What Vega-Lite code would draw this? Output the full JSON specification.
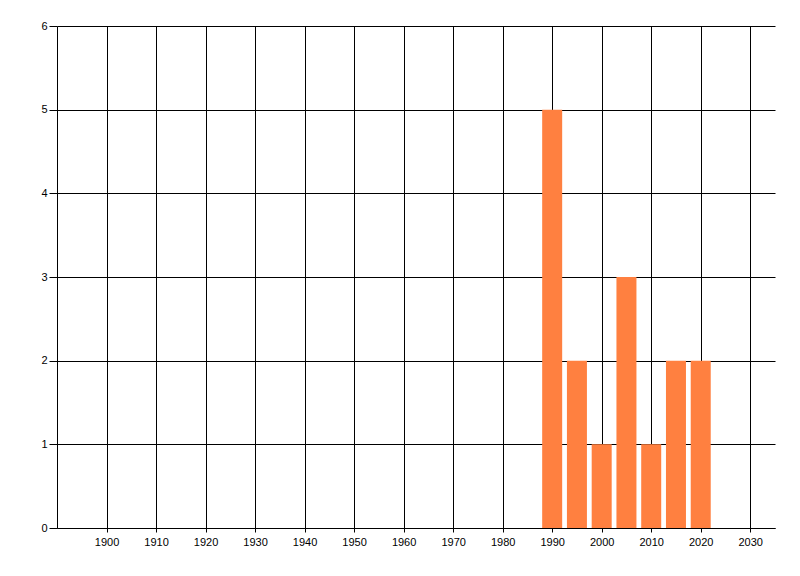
{
  "$schema": "https://vega.github.io/schema/vega-lite/v6.json",
  "width": 718,
  "height": 502,
  "autosize": "none",
  "padding": {"left": 57, "top": 26, "right": 25, "bottom": 48},
  "background": "white",
  "data": {
    "values": [
      {"year": 1990, "count": 5},
      {"year": 1995, "count": 2},
      {"year": 2000, "count": 1},
      {"year": 2005, "count": 3},
      {"year": 2010, "count": 1},
      {"year": 2015, "count": 2},
      {"year": 2020, "count": 2}
    ]
  },
  "mark": {"type": "bar", "width": 20, "color": "#ff8040", "stroke": null},
  "encoding": {
    "x": {
      "field": "year",
      "type": "quantitative",
      "scale": {"domain": [1890, 2035], "nice": false, "zero": false, "padding": 0},
      "axis": {
        "title": null,
        "values": [1900, 1910, 1920, 1930, 1940, 1950, 1960, 1970, 1980, 1990, 2000, 2010, 2020, 2030],
        "format": "d",
        "grid": true,
        "gridColor": "black",
        "gridOpacity": 1,
        "domainColor": "black",
        "tickColor": "black",
        "tickSize": 4,
        "labelPadding": 4,
        "labelFont": "Liberation Sans",
        "labelFontSize": 11,
        "labelColor": "#000"
      }
    },
    "y": {
      "field": "count",
      "type": "quantitative",
      "scale": {"domain": [0, 6], "nice": false},
      "axis": {
        "title": null,
        "values": [0, 1, 2, 3, 4, 5, 6],
        "grid": true,
        "gridColor": "black",
        "gridOpacity": 1,
        "domainColor": "black",
        "tickColor": "black",
        "tickSize": 8,
        "labelPadding": 2,
        "labelFont": "Liberation Sans",
        "labelFontSize": 11,
        "labelColor": "#000"
      }
    }
  },
  "config": {"view": {"stroke": null}}
}
